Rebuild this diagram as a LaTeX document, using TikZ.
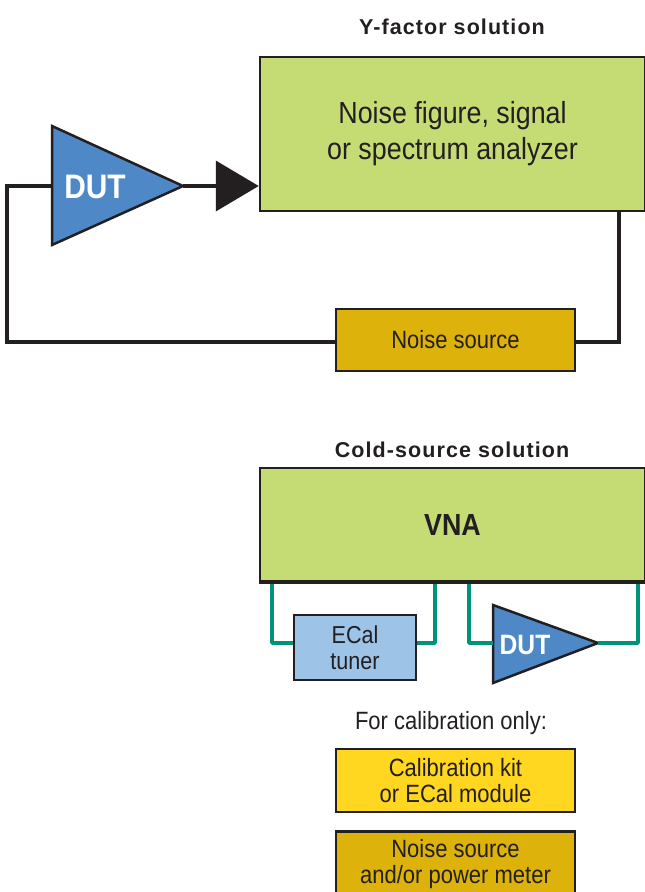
\documentclass[tikz,border=0pt]{standalone}
\usepackage{fontspec}
\setmainfont{Liberation Sans}[FakeStretch=0.88]
\newfontfamily\titlefont{Liberation Sans}[LetterSpace=5]
\usetikzlibrary{arrows.meta}
\definecolor{agreen}{RGB}{197,220,117}
\definecolor{ablue}{RGB}{79,136,198}
\definecolor{alblue}{RGB}{157,195,230}
\definecolor{ayellow}{RGB}{255,214,32}
\definecolor{agold}{RGB}{221,178,10}
\definecolor{ateal}{RGB}{0,146,122}
\definecolor{aedge}{RGB}{35,31,32}
\begin{document}
\begin{tikzpicture}[x=1pt,y=-1pt,
  box/.style={draw=aedge,line width=2.5pt,inner sep=0pt,align=center,text=aedge},
  wire/.style={draw=aedge,line width=4pt,line join=miter},
  twire/.style={draw=ateal,line width=3.5pt,line join=round},
  amp/.style={fill=ablue,draw=aedge,line width=2.5pt,line join=miter},
  ttl/.style={font=\titlefont\bfseries\fontsize{21.5}{24}\selectfont,text=aedge},
  lbl/.style={font=\fontsize{25}{26}\selectfont}]
\useasboundingbox (0,0) rectangle (645,892);

% ---------- Y-factor ----------
\node[ttl] (t1) at (452,27) {Y-factor solution};
\node[box,fill=agreen,minimum width=385pt,minimum height=154pt,
  font=\fontsize{30.5}{38}\selectfont] (nfa) at (452.5,134) {Noise figure, signal\\[-2pt]or spectrum analyzer};
\node[box,fill=agold,minimum width=239pt,minimum height=62pt,lbl] (ns) at (455.5,340) {Noise source};

\coordinate (dutin) at (52,186);
\coordinate (dutout) at (183,186);
\path[amp] (52,126) -- (dutout) -- (52,245) -- cycle;
\node[text=white,font=\bfseries\fontsize{34}{36}\selectfont] (dutlbl) at (95,187) {DUT};

\draw[wire,-{Triangle[length=43pt,width=50pt]}] (dutout) -- (nfa.west |- dutout);
\draw[wire] (dutin) -- (7,186) -- (7,342) -- (ns.west |- 0,342);
\draw[wire] (ns.east |- 0,342) -- (619,342) -- (619,211);

% ---------- Cold source ----------
\node[ttl] (t2) at (452,450) {Cold-source solution};
\node[box,fill=agreen,minimum width=385pt,minimum height=113pt,
  font=\bfseries\fontsize{30.5}{32}\selectfont] (vna) at (452.5,524.5) {VNA};
\node[box,fill=alblue,minimum width=122pt,minimum height=65pt,
  font=\fontsize{24.5}{26}\selectfont] (ecal) at (355,647.5) {ECal\\tuner};

\coordinate (d2in) at (493,643);
\coordinate (d2out) at (598,643);
\path[amp] (493,605) -- (d2out) -- (493,683) -- cycle;
\node[text=white,font=\bfseries\fontsize{28}{30}\selectfont] (d2lbl) at (525,645) {DUT};

\draw[twire] (272,581) -- (272,643) -- (ecal.west |- 0,643);
\draw[twire] (ecal.east |- 0,643) -- (435,643) -- (435,581);
\draw[twire] (469,581) -- (469,643) -- (d2in);
\draw[twire] (d2out) -- (638,643) -- (638,581);
% redraw VNA border over wire ends
\draw[aedge,line width=2.5pt] (vna.south west) -- (vna.south east);

\node[lbl,text=aedge] (cal) at (451,723) {For calibration only:};
\node[box,fill=ayellow,minimum width=239pt,minimum height=63pt,lbl] (ck) at (455.5,780.5) {Calibration kit\\or ECal module};
\node[box,fill=agold,minimum width=239pt,minimum height=66pt,lbl,anchor=north] (nspm) at (455.5,830) {Noise source\\and/or power meter};
\end{tikzpicture}
\end{document}
